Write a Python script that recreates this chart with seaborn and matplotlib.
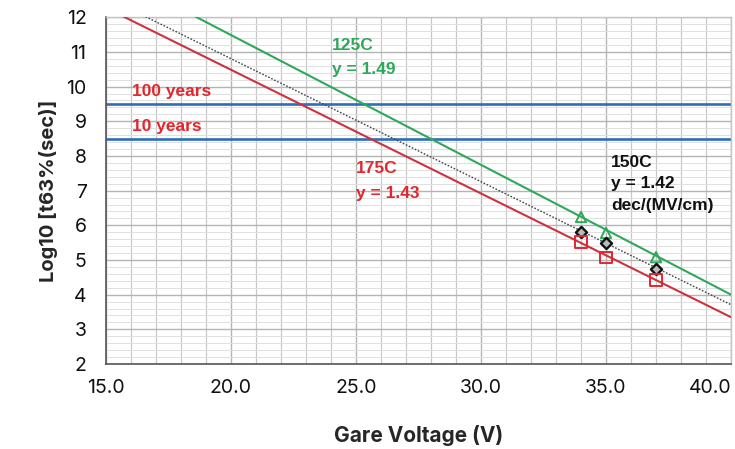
import numpy as np
import pandas as pd
import matplotlib
matplotlib.use("Agg")
import matplotlib.pyplot as plt
from matplotlib.ticker import MultipleLocator
import seaborn as sns

# measured points (gate voltage vs log10 t63%)
volts = [34, 35, 37]
t125 = [6.24, 5.78, 5.08]
t150 = [5.80, 5.49, 4.74]
t175 = [5.52, 5.07, 4.43]

# fitted lines, evaluated at the x-axis ends
fit_x = [15.0, 40.0]
fit125 = [13.36, 4.00]
fit150 = [12.58, 3.71]
fit175 = [12.27, 3.35]

# lifetime targets, log10(seconds)
life_names = ["100 years", "10 years"]
life_vals = [9.5, 8.5]

x_ticks = [15, 20, 25, 30, 35, 40]
x_tick_labels = ["15.0", "20.0", "25.0", "30.0", "35.0", "40.0"]
y_ticks = [2, 3, 4, 5, 6, 7, 8, 9, 10, 11, 12]

sns.set_style("white")
plt.rcParams["font.family"] = ["Inter", "DejaVu Sans"]

RED = "#e3262e"
RED_LINE = "#cc3340"
GREEN = "#2fa85a"
BLUE = "#2b6fba"

pts = pd.DataFrame({"V": volts * 3,
                    "t": t125 + t150 + t175,
                    "T": ["125C"] * 3 + ["150C"] * 3 + ["175C"] * 3})
fits = pd.DataFrame({"V": fit_x * 3,
                     "t": fit125 + fit150 + fit175,
                     "T": ["125C"] * 2 + ["150C"] * 2 + ["175C"] * 2})

fig = plt.figure(figsize=(7.35, 4.49), dpi=100)
ax = fig.add_axes([0.1442, 0.1893, 0.8504, 0.7722])

# grid
ax.xaxis.set_major_locator(MultipleLocator(5))
ax.xaxis.set_minor_locator(MultipleLocator(1))
ax.yaxis.set_major_locator(MultipleLocator(1))
ax.yaxis.set_minor_locator(MultipleLocator(0.2))
ax.grid(which="major", axis="both", color="#b4b4b4", lw=1.0, zorder=0)
ax.grid(which="minor", axis="x", color="#c8c8c8", lw=0.9, zorder=0)
ax.grid(which="minor", axis="y", color="#e0e0e0", lw=0.7, zorder=0)
ax.set_axisbelow(True)

for v in life_vals:
    ax.axhline(v, color=BLUE, lw=1.9, zorder=2)

sns.lineplot(data=fits[fits["T"] == "125C"], x="V", y="t", color=GREEN, lw=1.5, ax=ax, zorder=3)
sns.lineplot(data=fits[fits["T"] == "175C"], x="V", y="t", color=RED_LINE, lw=1.5, ax=ax, zorder=3)
sns.lineplot(data=fits[fits["T"] == "150C"], x="V", y="t", color="#444444", lw=1.0,
             linestyle=(0, (1.2, 1.2)), ax=ax, zorder=3)

sns.scatterplot(data=pts[pts["T"] == "125C"], x="V", y="t", marker="^", s=55,
                facecolor="none", edgecolor=GREEN, linewidth=1.4, ax=ax, zorder=4)
sns.scatterplot(data=pts[pts["T"] == "150C"], x="V", y="t", marker="D", s=32,
                facecolor="#bbbbbb", edgecolor="#111111", linewidth=1.7, ax=ax, zorder=4)
sns.scatterplot(data=pts[pts["T"] == "175C"], x="V", y="t", marker="s", s=70,
                facecolor="none", edgecolor=RED, linewidth=1.4, ax=ax, zorder=4)

ax.set_xlim(15, 40)
ax.set_ylim(2, 12)
ax.set_xticks(x_ticks)
ax.set_xticklabels(x_tick_labels)
ax.set_yticks(y_ticks)
ax.tick_params(axis="both", which="major", direction="inout", length=6, width=1,
               color="#555555", labelsize=14, labelcolor="#111111")
ax.tick_params(axis="both", which="minor", direction="inout", length=4, width=0.9,
               color="#555555")
ax.tick_params(axis="y", pad=11)
ax.tick_params(axis="x", pad=8)
xl = ax.get_xticklabels()
xl[-1].set_horizontalalignment("right")

for side in ["left", "bottom"]:
    ax.spines[side].set_color("#555555")
    ax.spines[side].set_linewidth(1.2)
for side in ["top", "right"]:
    ax.spines[side].set_color("#c4c4c4")
    ax.spines[side].set_linewidth(1.0)

ax.set_xlabel("Gare Voltage (V)", fontsize=15, fontweight="bold", labelpad=20)
ax.set_ylabel("Log10 [t63%(sec)]", fontsize=14.5, fontweight="bold", labelpad=6)

# annotations
ann = dict(fontfamily="Liberation Sans", fontweight="bold", fontsize=12.5)
ax.text(16.05, 9.85, life_names[0], color=RED, va="center", **ann)
ax.text(16.05, 8.85, life_names[1], color=RED, va="center", **ann)
ax.text(24.05, 11.2, "125C", color=GREEN, va="center", **ann)
ax.text(24.05, 10.5, "y = 1.49", color=GREEN, va="center", **ann)
ax.text(25.0, 7.65, "175C", color=RED, va="center", **ann)
ax.text(25.0, 6.93, "y = 1.43", color=RED, va="center", **ann)
ax.text(35.2, 7.8, "150C", color="#111111", va="center", **ann)
ax.text(35.2, 7.2, "y = 1.42", color="#111111", va="center", **ann)
ax.text(35.2, 6.57, "dec/(MV/cm)", color="#111111", va="center", **ann)

fig.savefig("out.png", dpi=100)
